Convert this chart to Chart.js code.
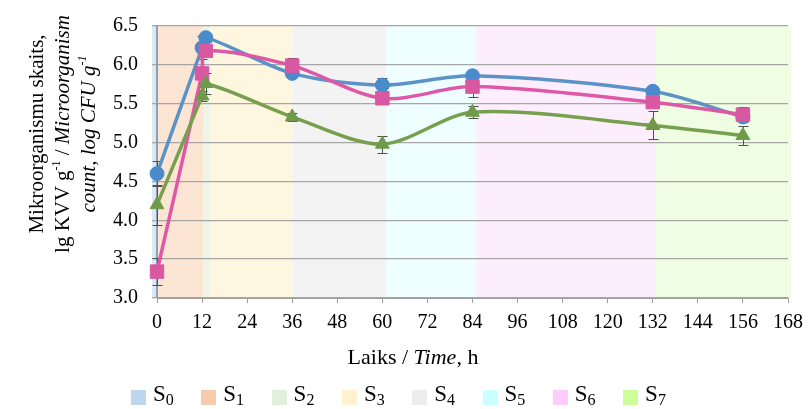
<!DOCTYPE html>
<html>
<head>
<meta charset="utf-8">
<script src="https://cdn.jsdelivr.net/npm/chart.js@4"></script>
<style>
  body { margin: 0; background: #fff; }
  #wrap { position: relative; width: 811px; height: 409px; font-family: "Liberation Serif", "Times New Roman", serif; color: #000; }
  #ytitle { position: absolute; left: 62px; top: 134px; width: 320px; transform: translate(-50%, -50%) rotate(-90deg); text-align: center; font-size: 21px; line-height: 20px; white-space: nowrap; }
  #xtitle { position: absolute; left: 413px; top: 344px; transform: translateX(-50%); font-size: 22px; white-space: nowrap; }
  #legend { position: absolute; left: 0; top: 0; width: 811px; height: 409px; font-size: 23px; pointer-events: none; }
  .item { position: absolute; top: 383px; display: flex; align-items: center; gap: 7px; height: 24px; }
  .box { width: 15px; height: 15px; margin-top: 4px; }
  sup { font-size: 12px; vertical-align: 9px; }
  sub { font-size: 16px; vertical-align: -4px; }
</style>
</head>
<body>
<div id="wrap">
  <canvas id="myChart" width="811" height="409"></canvas>
  <div id="ytitle">Mikroorganismu skaits,<br>lg KVV g<sup>-1</sup> / <i>Microorganism</i><br><i>count, log CFU g<sup>-1</sup></i></div>
  <div id="xtitle">Laiks / <i>Time</i>, h</div>
  <div id="legend"></div>
</div>
<script>
// data

const times = [0, 12, 13, 36, 60, 84, 132, 156];
const blueVals = [4.6, 6.22, 6.35, 5.89, 5.74, 5.86, 5.66, 5.33];
const pinkVals = [3.34, 5.89, 6.18, 5.99, 5.57, 5.72, 5.52, 5.36];
const greenVals = [4.2, 5.6, 5.76, 5.33, 4.98, 5.39, 5.22, 5.09];
const blueErr = [0.16, 0.15, 0.05, 0.05, 0.09, 0.04, 0.04, 0.05];
const pinkErr = [0.17, 0.06, 0.05, 0.1, 0.05, 0.14, 0.05, 0.1];
const greenErr = [0.26, 0.06, 0.14, 0.05, 0.11, 0.08, 0.18, 0.12];

// stages shaded behind the lines (hours)
const stageNames = ["0", "1", "2", "3", "4", "5", "6", "7"];
const stageStart = [-1.3, 0.3, 12.4, 14.2, 36, 61.1, 85, 132.9];
const stageEnd = [0.3, 12.4, 14.2, 36, 61.1, 85, 132.9, 168.9];
const stageColors = ["#bdd7ee", "#f8cbad", "#e2efda", "#fff2cc", "#ededed", "#ccffff", "#ffccff", "#ccff99"];
const stageFills = ["#dde8f4", "#fde5d4", "#edf5e8", "#fff6df", "#f3f3f3", "#efffff", "#fdeefd", "#effde2"];

// html legend, one item every 70px
let legendDiv = document.getElementById("legend");
stageNames.forEach((n, i) => {
  legendDiv.innerHTML +=
    '<div class="item" style="left:' + (131 + i * 70.3) + 'px"><div class="box" style="background:' +
    stageColors[i] + '"></div><span>S<sub>' + n + "</sub></span></div>";
});

const stagePlugin = {
  id: "stages",
  beforeDraw(chart) {
    const ctx = chart.ctx;
    const x = chart.scales.x;
    const area = chart.chartArea;
    ctx.save();
    stageStart.forEach((s, i) => {
      const x1 = x.getPixelForValue(s);
      const x2 = x.getPixelForValue(stageEnd[i]);
      ctx.fillStyle = stageFills[i];
      ctx.fillRect(x1, area.top, x2 - x1, area.bottom - area.top);
    });
    ctx.restore();
  },
};

const errorPlugin = {
  id: "errors",
  beforeDatasetsDraw(chart) {
    const ctx = chart.ctx;
    const xs = chart.scales.x;
    const ys = chart.scales.y;
    ctx.save();
    ctx.strokeStyle = "#505050";
    ctx.lineWidth = 1;
    chart.data.datasets.forEach((ds) => {
      ds.data.forEach((p, i) => {
        const e = ds.errors[i];
        const px = Math.round(xs.getPixelForValue(p.x)) + 0.5;
        const top = Math.round(ys.getPixelForValue(p.y + e)) + 0.5;
        const bot = Math.round(ys.getPixelForValue(p.y - e)) + 0.5;
        ctx.beginPath();
        ctx.moveTo(px, top);
        ctx.lineTo(px, bot);
        ctx.moveTo(px - 5, top);
        ctx.lineTo(px + 5, top);
        ctx.moveTo(px - 5, bot);
        ctx.lineTo(px + 5, bot);
        ctx.stroke();
      });
    });
    ctx.restore();
  },
};

function toPoints(vals) {
  return vals.map((v, i) => ({ x: times[i], y: v }));
}

let myChart = document.getElementById("myChart").getContext("2d");
let chart = new Chart(myChart, {
  type: "line",
  data: {
    datasets: [
      {
        data: toPoints(blueVals),
        errors: blueErr,
        borderColor: "#5b92c8",
        pointBackgroundColor: "#4a8bcb",
        pointBorderColor: "#4a8bcb",
        pointStyle: "circle",
        pointRadius: 7,
        clip: false,
        order: 3,
      },
      {
        data: toPoints(pinkVals),
        errors: pinkErr,
        borderColor: "#df58a8",
        pointBackgroundColor: "#d958a2",
        pointBorderColor: "#d958a2",
        pointStyle: "rect",
        pointRadius: 9.5,
        clip: false,
        order: 2,
      },
      {
        data: toPoints(greenVals),
        errors: greenErr,
        borderColor: "#76a04e",
        pointBackgroundColor: "#6f9a4c",
        pointBorderColor: "#6f9a4c",
        pointStyle: "triangle",
        pointRadius: 8,
        clip: false,
        order: 1,
      },
    ],
  },
  options: {
    responsive: false,
    animation: false,
    layout: { padding: { left: 0, right: 18, top: 18, bottom: 0 } },
    elements: {
      line: { borderWidth: 3.5, tension: 0.3, fill: false },
      point: { borderWidth: 1 },
    },
    plugins: {
      legend: { display: false },
      title: { display: false },
      tooltip: { enabled: false },
    },
    scales: {
      x: {
        type: "linear",
        min: 0,
        max: 168,
        afterFit: (s) => { s.height = 111; },
        ticks: {
          stepSize: 12,
          padding: 8,
          color: "#000",
          font: { family: "Liberation Serif", size: 20 },
        },
        grid: { drawOnChartArea: false, drawTicks: true, tickLength: 5, color: "#a0a0a0" },
        border: { color: "#a0a0a0", width: 1 },
      },
      y: {
        min: 3,
        max: 6.5,
        afterFit: (s) => { s.width = 157; },
        ticks: {
          stepSize: 0.5,
          padding: 14,
          color: "#000",
          font: { family: "Liberation Serif", size: 20 },
          callback: (v) => v.toFixed(1),
        },
        grid: { color: "#a6a6a6", tickLength: 5, lineWidth: 1.3 },
        border: { color: "#8b9fb6", width: 2 },
      },
    },
  },
  plugins: [stagePlugin, errorPlugin],
});
</script>
</body>
</html>
